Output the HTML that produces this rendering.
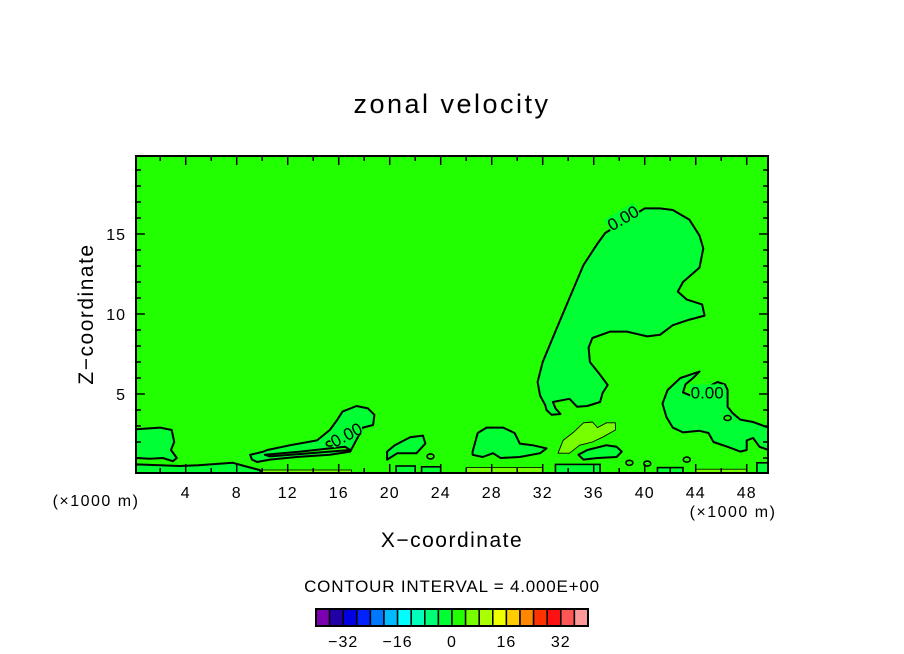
<!DOCTYPE html>
<html><head><meta charset="utf-8"><style>
html,body{margin:0;padding:0;background:#fff;}
svg{display:block;}
text{font-family:"Liberation Sans",sans-serif;fill:#000;}
</style></head><body>
<svg id="chart" width="904" height="654" viewBox="0 0 904 654" xmlns="http://www.w3.org/2000/svg">
<rect x="0" y="0" width="904" height="654" fill="#fff"/>
<text x="452" y="113" font-size="27" text-anchor="middle" letter-spacing="2.5">zonal velocity</text>
<g id="plot"></g>
<text x="0" y="0" font-size="21" text-anchor="middle" letter-spacing="1.5" transform="translate(93,314) rotate(-90)">Z−coordinate</text>
<text x="452" y="547" font-size="21" text-anchor="middle" letter-spacing="1.5">X−coordinate</text>
<text x="96" y="506" font-size="16" text-anchor="middle" letter-spacing="1.5">(×1000 m)</text>
<text x="733" y="517" font-size="16" text-anchor="middle" letter-spacing="1.5">(×1000 m)</text>
<text x="452" y="592" font-size="17" text-anchor="middle" letter-spacing="0.8">CONTOUR INTERVAL = 4.000E+00</text>
<g id="cbar"></g>
</svg>
<script>
// ---- data ----
const xTicks = [2,4,6,8,10,12,14,16,18,20,22,24,26,28,30,32,34,36,38,40,42,44,46,48];
const xTickLabels = [4,8,12,16,20,24,28,32,36,40,44,48];
const zTicks = [1,2,3,4,5,6,7,8,9,10,11,12,13,14,15,16,17,18,19];
const zTickLabels = [5,10,15];
const cbarLevels = [-40,-36,-32,-28,-24,-20,-16,-12,-8,-4,0,4,8,12,16,20,24,28,32,36,40];
const cbarColors = ["#7a00b0","#2200a8","#0000e0","#0022ff","#0077ff","#00bbff","#00ffff","#00ffbb","#00ff77","#00ff33","#22ff00","#77ff00","#aaff00","#eeff00","#ffcc00","#ff8800","#ff3300","#ff1111","#ff5555","#ff9999"];
const cbarLabels = [-32,-16,0,16,32];
// contour polygons (x in km, z in km) with level value of their interior
const plumeX = [36.9,36.3,35.2,34.1,33.1,32.0,31.6,31.8,32.2,32.3,32.7,33.4,33.0,32.8,34.1,34.7,35.5,36.5,36.7,37.1,36.5,35.7,35.6,35.9,37.3,38.6,40.2,41.2,42.2,43.3,44.7,44.5,43.3,42.6,43.0,44.3,44.6,44.3,43.5,42.2,41.2,40.0];
const plumeZ = [15.06,14.4,13.06,11.0,9.1,7.0,5.75,4.9,4.3,4.0,3.7,3.75,4.1,4.5,4.7,4.2,4.25,4.5,5.06,5.56,6.2,7.0,7.9,8.5,8.9,8.9,8.6,8.7,9.3,9.6,9.9,10.6,10.9,11.4,12.0,12.9,14.1,14.9,15.9,16.5,16.6,16.6];
const rightX = [49.7,48.5,47.5,46.9,46.5,46.5,46.3,45.7,43.6,43.0,43.2,43.8,44.3,42.8,41.8,41.4,41.7,42.2,43.0,44.3,45.0,45.4,46.5,47.5,48.0,48.0,48.5,49.0,49.7];
const rightZ = [2.9,3.25,3.4,3.8,4.2,5.25,5.6,5.75,4.9,5.1,5.6,6.0,6.4,6.0,5.25,4.4,3.56,2.9,2.6,2.7,2.56,2.0,1.7,1.4,1.5,2.1,2.25,1.7,1.5];
const leftX = [0.1,2.0,2.9,3.1,2.85,3.3,3.0,2.2,1.2,0.1];
const leftZ = [2.8,2.9,2.75,2.0,1.5,1.0,0.8,1.0,0.95,1.0];
const bandX = [0.1,2,3.5,5,7.7,8.6,9.8,10,0.1];
const bandZ = [0.6,0.55,0.5,0.55,0.7,0.5,0.25,0,0];
const midX = [9.05,9.6,10.1,10.4,12.2,14.3,15.3,15.9,16.3,17.4,18.3,18.8,18.7,17.9,16.9,15.3,12.7,10.6,9.6,9.2];
const midZ = [1.2,1.3,1.4,1.5,1.8,2.1,2.75,3.4,3.9,4.25,4.1,3.7,3.06,2.9,1.4,1.2,1.06,0.9,0.75,0.9];
const midHoleX = [10.2,13.0,15.3,16.5,16.9,15.3,13.0,10.6];
const midHoleZ = [1.2,1.4,1.6,1.7,1.5,1.4,1.25,1.1];
const b20X = [19.8,20.4,21.6,22.6,22.8,22.1,20.6,19.8];
const b20Z = [1.4,1.8,2.3,2.4,1.9,1.3,1.3,0.9];
const b28X = [26.5,26.9,27.6,28.9,29.8,30.2,31.2,32.3,31.8,30.2,28.7,28.1,27.3,26.5];
const b28Z = [1.4,2.56,2.9,2.9,2.56,1.9,1.8,1.6,1.3,1.06,1.0,1.3,1.06,1.2];
const lgX = [33.2,33.6,34.4,35.2,35.9,36.3,37.0,37.7,37.7,36.7,35.9,34.9,34.1];
const lgZ = [1.3,2.1,2.6,3.2,3.25,2.9,3.2,3.2,2.75,2.3,2.0,1.8,1.3];
const b36X = [34.8,35.5,37.0,37.8,38.2,37.8,36.3,35.2];
const b36Z = [1.2,1.5,1.8,1.7,1.4,1.06,1.0,0.9];
const stripX0 = [9.5,26,44,33,41,48.8,20.5,22.5];
const stripX1 = [17,32,48,36.5,43,50,22,24];
const stripZ1 = [0.25,0.4,0.3,0.6,0.4,0.7,0.5,0.45];
const stripVal = [6,6,6,-2,-2,-2,-2,-2];
const dotX = [15.3,16.7,17.5,46.5,40.2,43.3,38.8,23.2];
const dotZ = [1.9,2.3,2.6,3.5,0.65,0.9,0.7,1.1];
const labelX = [38.3,16.6,44.9];
const labelZ = [16.0,2.45,5.1];
const labelAng = [-30,-28,0];
const labelText = ["0.00","0.00","0.00"];

// ---- axes ----
const X0=134.7, XS=12.75, Z0=474, ZS=16;
const L=136, R=768, T=156, B=473;
const sx = v => X0 + v*XS;
const sz = v => Z0 - v*ZS;
const colorOf = v => { for(let i=0;i<cbarColors.length;i++){ if(v>=cbarLevels[i] && v<cbarLevels[i+1]) return cbarColors[i]; } return "#22ff00"; };
const NS="http://www.w3.org/2000/svg";
const plot=document.getElementById('plot');
function mk(tag,attrs,parent){ const e=document.createElementNS(NS,tag); for(const k in attrs) e.setAttribute(k,attrs[k]); (parent||plot).appendChild(e); return e; }
function pts(xs,zs){ return xs.map((x,i)=>sx(x).toFixed(1)+","+sz(zs[i]).toFixed(1)).join(" "); }

const clip=mk('clipPath',{id:'pc'}); mk('rect',{x:L,y:T,width:R-L,height:B-T},clip);
const g=mk('g',{'clip-path':'url(#pc)'});
const bg=mk('rect',{x:L,y:T,width:R-L,height:B-T,fill:colorOf(1)},g);



for(let i=0;i<stripX0.length;i++){
  const r=mk('rect',{x:sx(stripX0[i]),y:sz(stripZ1[i]),width:sx(stripX1[i])-sx(stripX0[i]),height:sz(0)-sz(stripZ1[i])+2,fill:colorOf(stripVal[i]),stroke:'#000','stroke-width':stripVal[i]>0?0.8:1.6},g);
  
  
}
const polys=[[plumeX,plumeZ,-2,'plume-contour'],[rightX,rightZ,-2,'right-contour'],[leftX,leftZ,-2,'left-contour'],[bandX,bandZ,-2,'bottom-band-contour'],[midX,midZ,-2,'middle-contour'],[midHoleX,midHoleZ,1,'middle-hole-contour'],[b20X,b20Z,-2,'blob-20-contour'],[b28X,b28Z,-2,'blob-28-contour'],[lgX,lgZ,6,'positive-contour'],[b36X,b36Z,-2,'blob-36-contour']];
polys.forEach(p=>{
  const e=mk('polygon',{points:pts(p[0],p[1]),fill:colorOf(p[2]),stroke:'#000','stroke-width':p[2]>0&&p[3]==='positive-contour'?0.9:2,'stroke-linejoin':'round'},g);
  
  
});
for(let i=0;i<dotX.length;i++){
  const e=mk('ellipse',{cx:sx(dotX[i]),cy:sz(dotZ[i]),rx:3.5,ry:2.5,fill:colorOf(1),stroke:'#000','stroke-width':1.6},g);
  
  
}
for(let i=0;i<labelX.length;i++){
  const tg=mk('g',{transform:`translate(${sx(labelX[i])},${sz(labelZ[i])}) rotate(${labelAng[i]})`},g);
  mk('rect',{x:-17,y:-8,width:34,height:14,fill:colorOf(-2)},tg);
  const t=mk('text',{x:0,y:6,'font-size':17,'text-anchor':'middle'},tg);
  t.textContent=labelText[i];
  
  
}
// frame
const fr=mk('rect',{x:L,y:T,width:R-L,height:B-T,fill:'none',stroke:'#000','stroke-width':2});


xTicks.forEach(v=>{
  const len = xTickLabels.includes(v)?9:5;
  mk('line',{x1:sx(v),x2:sx(v),y1:B,y2:B-len,stroke:'#000','stroke-width':1.5});
  mk('line',{x1:sx(v),x2:sx(v),y1:T,y2:T+len,stroke:'#000','stroke-width':1.5});
});
zTicks.forEach(v=>{
  const len = zTickLabels.includes(v)?9:5;
  mk('line',{x1:L,x2:L+len,y1:sz(v),y2:sz(v),stroke:'#000','stroke-width':1.5});
  mk('line',{x1:R,x2:R-len,y1:sz(v),y2:sz(v),stroke:'#000','stroke-width':1.5});
});
xTickLabels.forEach(v=>{
  const t=mk('text',{x:sx(v),y:498,'font-size':16,'text-anchor':'middle','letter-spacing':1});
  t.textContent=v;
  
  
});
zTickLabels.forEach(v=>{
  const t=mk('text',{x:126,y:sz(v)+6,'font-size':16,'text-anchor':'end','letter-spacing':1});
  t.textContent=v;
  
  
});
// colorbar
const cb=document.getElementById('cbar');
const CL=316, CR=588, CT=609, CB=626;
const cx = v => CL + (v-cbarLevels[0])/(cbarLevels[cbarLevels.length-1]-cbarLevels[0])*(CR-CL);
cbarColors.forEach((c,i)=>{
  const r=mk('rect',{x:cx(cbarLevels[i]),y:CT,width:cx(cbarLevels[i+1])-cx(cbarLevels[i]),height:CB-CT,fill:c,stroke:'#000','stroke-width':1.5},cb);
  
  
});
mk('rect',{x:CL,y:CT,width:CR-CL,height:CB-CT,fill:'none',stroke:'#000','stroke-width':2},cb);
cbarLabels.forEach(v=>{
  const t=mk('text',{x:cx(v),y:647,'font-size':16,'text-anchor':'middle','letter-spacing':1},cb);
  t.textContent=(v<0?'−':'')+Math.abs(v);
  
  
});
</script>
</body></html>
